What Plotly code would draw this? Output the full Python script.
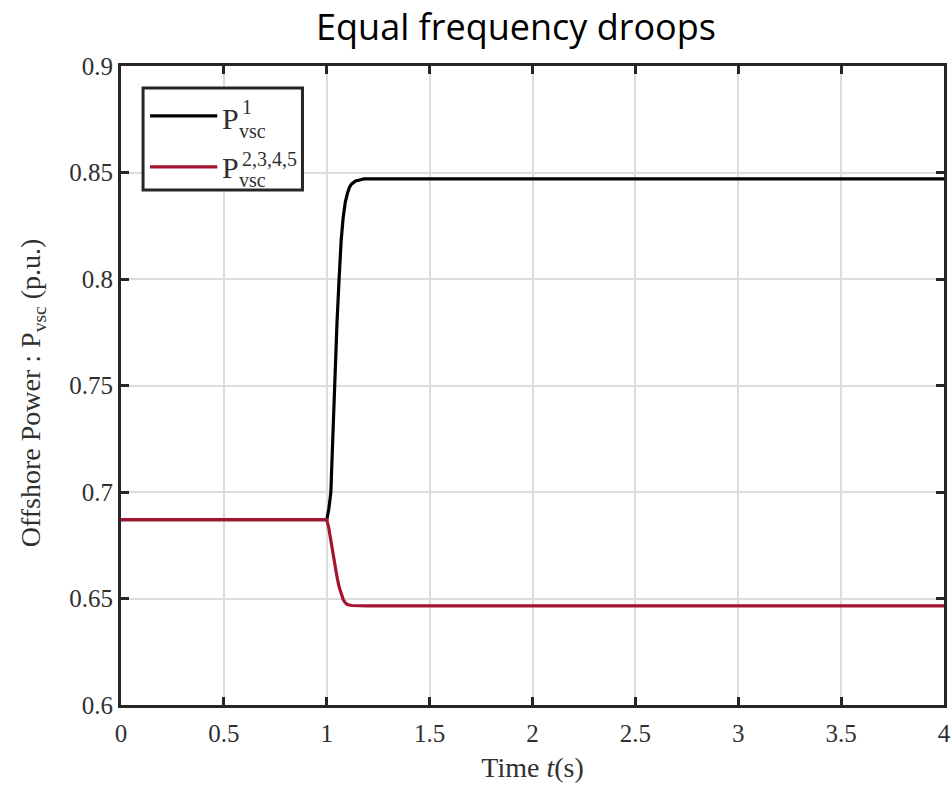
import plotly.graph_objects as go

# Data
t_p1 = [0, 1.00, 1.01, 1.02, 1.03, 1.04, 1.05, 1.06, 1.07, 1.08, 1.09, 1.10, 1.11, 1.12, 1.13, 1.14, 1.16, 1.18, 1.20, 4.0]
p1 = [0.687, 0.687, 0.692, 0.700, 0.727, 0.755, 0.780, 0.800, 0.818, 0.829, 0.836, 0.840, 0.843, 0.8445, 0.8455, 0.846, 0.8465, 0.847, 0.847, 0.847]

t_p2 = [0, 1.00, 1.01, 1.02, 1.03, 1.04, 1.05, 1.06, 1.07, 1.08, 1.09, 1.10, 1.12, 1.15, 1.20, 4.0]
p2 = [0.687, 0.687, 0.683, 0.677, 0.671, 0.665, 0.660, 0.6555, 0.652, 0.6495, 0.648, 0.6472, 0.6467, 0.6465, 0.6465, 0.6465]

x_ticks = [0, 0.5, 1, 1.5, 2, 2.5, 3, 3.5, 4]
x_tick_labels = ["0", "0.5", "1", "1.5", "2", "2.5", "3", "3.5", "4"]
y_ticks = [0.6, 0.65, 0.7, 0.75, 0.8, 0.85, 0.9]
y_tick_labels = ["0.6", "0.65", "0.7", "0.75", "0.8", "0.85", "0.9"]

RED = "#A2142F"
SERIF = "Liberation Serif, Times New Roman, serif"
TXT = "#303030"

fig = go.Figure()
fig.add_trace(go.Scatter(x=t_p1, y=p1, mode="lines", line=dict(color="black", width=3.2),
                         showlegend=False))
fig.add_trace(go.Scatter(x=t_p2, y=p2, mode="lines", line=dict(color=RED, width=3.2),
                         showlegend=False))

axis_common = dict(showline=True, linecolor="#262626", linewidth=3, mirror="ticks",
                   ticks="inside", ticklen=8, tickwidth=3, tickcolor="#262626",
                   showgrid=True, gridcolor="#dcdcdc", gridwidth=2, zeroline=False,
                   automargin=False, ticklabeloverflow="allow",
                   tickfont=dict(family=SERIF, size=25, color=TXT))

fig.update_xaxes(range=[0, 4], tickvals=x_ticks, ticktext=x_tick_labels,
                 ticklabelstandoff=4,
                 title=dict(text="Time <i>t</i>(s)", font=dict(family=SERIF, size=28, color=TXT), standoff=12),
                 **axis_common)
fig.update_yaxes(range=[0.6, 0.9], tickvals=y_ticks, ticktext=y_tick_labels,
                 **axis_common)

# manual legend (paper coordinates)
lx0, lx1, ly0, ly1 = 0.0268, 0.2205, 0.806, 0.9656
shapes = [
    dict(type="rect", xref="paper", yref="paper", x0=lx0, x1=lx1, y0=ly0, y1=ly1,
         line=dict(color="#262626", width=3), fillcolor="white", layer="above"),
    dict(type="line", xref="paper", yref="paper", x0=0.0353, x1=0.117, y0=0.9218, y1=0.9218,
         line=dict(color="black", width=3.2), layer="above"),
    dict(type="line", xref="paper", yref="paper", x0=0.0353, x1=0.117, y0=0.842, y1=0.842,
         line=dict(color=RED, width=3.2), layer="above"),
]
annotations = []
for yP, ySup, ySub, sup in [(0.918, 0.936, 0.899, "1"), (0.8415, 0.855, 0.822, "2,3,4,5")]:
    annotations.append(dict(text="P", xref="paper", yref="paper", x=0.1205, y=yP, xanchor="left",
                            yanchor="middle", showarrow=False, font=dict(family=SERIF, size=30, color=TXT)))
    annotations.append(dict(text=sup, xref="paper", yref="paper", x=0.145, y=ySup, xanchor="left",
                            yanchor="middle", showarrow=False, font=dict(family=SERIF, size=20, color=TXT)))
    annotations.append(dict(text="vsc", xref="paper", yref="paper", x=0.1405, y=ySub, xanchor="left",
                            yanchor="middle", showarrow=False, font=dict(family=SERIF, size=20, color=TXT)))

# y-axis title
annotations.append(dict(text="Offshore Power : P<sub>vsc</sub> (p.u.)", xref="paper", yref="paper",
                        x=-0.108, y=0.488, xanchor="center", yanchor="middle", textangle=-90,
                        showarrow=False, font=dict(family=SERIF, size=28, color=TXT)))

fig.update_layout(
    width=952, height=786,
    margin=dict(l=121, r=8, t=66, b=81),
    paper_bgcolor="white", plot_bgcolor="white",
    title=dict(text="Equal frequency droops", x=0.542, xref="container", xanchor="center",
               y=0.9656, yref="container", yanchor="middle",
               font=dict(family="Open Sans, Noto Sans, sans-serif", size=36, color="black")),
    shapes=shapes, annotations=annotations,
    showlegend=False,
)

fig.write_html("out.html", config={"displayModeBar": False},
               post_script="document.body.style.margin='0';document.body.style.padding='0';document.body.style.overflow='hidden';")
